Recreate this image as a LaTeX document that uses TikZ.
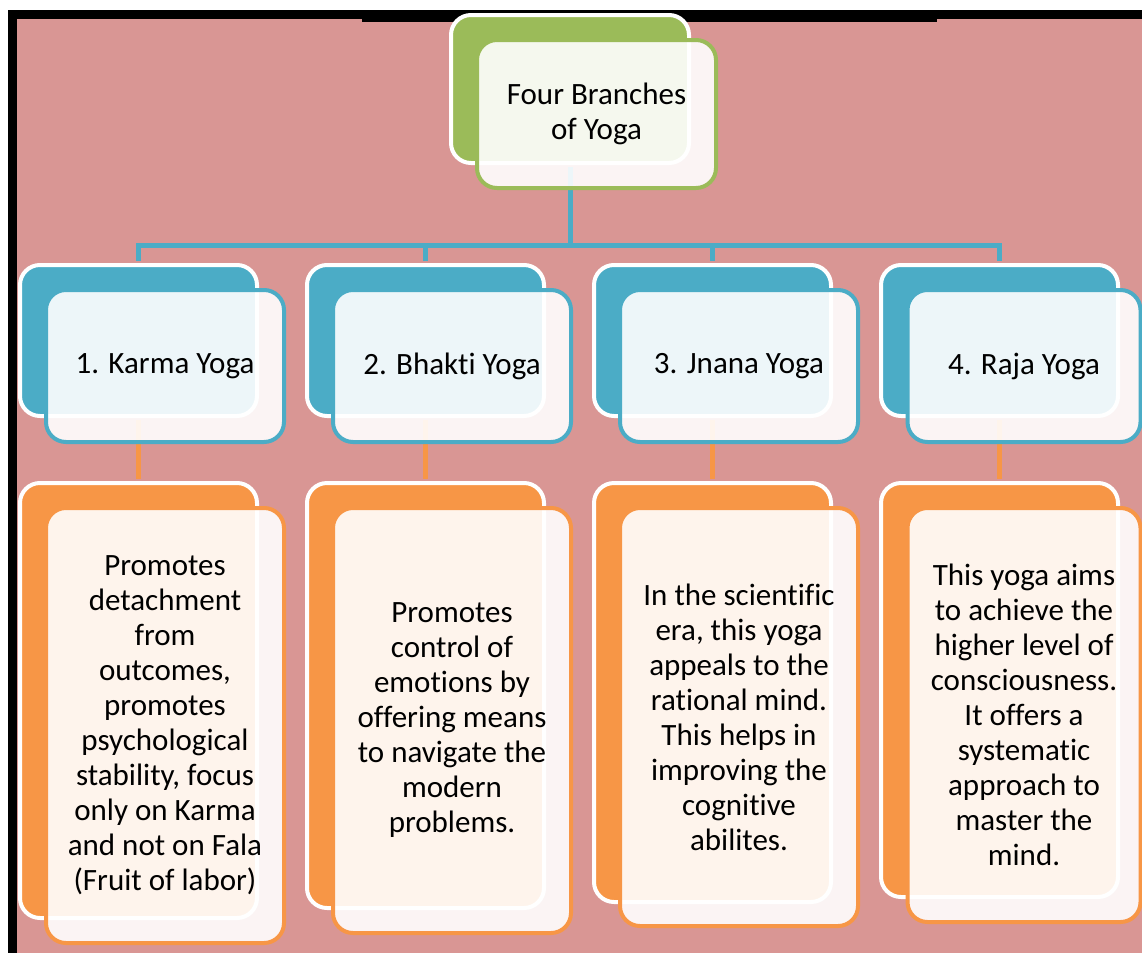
\documentclass[tikz,border=0pt]{standalone}
\usepackage{fontspec}
\setmainfont{Carlito}[Ligatures={NoCommon}]
\usepackage{tikz}
\usetikzlibrary{positioning}
\definecolor{pinkbg}{HTML}{D99694}
\definecolor{yogagreen}{HTML}{9BBB59}
\definecolor{yogablue}{HTML}{4BACC6}
\definecolor{yogaorange}{HTML}{F79646}
\tikzstyle{backbox}=[rectangle, rounded corners=20pt, draw=white, line width=4pt, fill=#1]
\tikzstyle{frontbox}=[rectangle, rounded corners=20pt, draw=#1, line width=4pt,
					fill=white, fill opacity=0.9, text opacity=1, text=black,
					align=center, font=\fontsize{31}{35}\selectfont]

\begin{document}
\begin{tikzpicture}[x=1pt, y=-1pt,
blueline/.style={draw=yogablue, line width=5pt, shorten <=2pt, shorten >=2pt},
orangeline/.style={draw=yogaorange, line width=5pt, shorten <=2pt, shorten >=2pt},
branchsize/.style={minimum width=237pt, minimum height=151pt},
]
\useasboundingbox (0,0) rectangle (1142,953);

%Background
\fill[pinkbg] (17,19) rectangle (1142,953);
\fill[black] (8,10) rectangle (1142,19);
\fill[black] (8,10) rectangle (17,953);
\fill[black] (362,19) rectangle (937,22);

%Back nodes
\node[backbox=yogagreen, minimum width=238pt, minimum height=148pt] (root_back) at (570,89) {};

\node[backbox=yogablue, branchsize] (karma_back)  at (138.5,340.5) {};
\node[backbox=yogablue, branchsize] (bhakti_back) at (425.5,340.5) {};
\node[backbox=yogablue, branchsize] (jnana_back)  at (712.5,340.5) {};
\node[backbox=yogablue, branchsize] (raja_back)   at (999.5,340.5) {};

\node[backbox=yogaorange, minimum width=237pt, minimum height=435pt] (karma_desc_back)  at (138.5,700.5) {};
\node[backbox=yogaorange, minimum width=237pt, minimum height=425pt] (bhakti_desc_back) at (425.5,695.5) {};
\node[backbox=yogaorange, minimum width=237pt, minimum height=419pt] (jnana_desc_back)  at (712.5,692.5) {};
\node[backbox=yogaorange, minimum width=237pt, minimum height=414pt] (raja_desc_back)   at (999.5,690) {};

%Lines
\coordinate (branch_split) at (570,245);
\draw[blueline] (root_back.south) -- ([yshift=-2pt]branch_split);
\draw[blueline, shorten <=0pt] (branch_split) -| (karma_back.north);
\draw[blueline, shorten <=0pt] (branch_split) -| (bhakti_back.north);
\draw[blueline, shorten <=0pt] (branch_split) -| (jnana_back.north);
\draw[blueline, shorten <=0pt] (branch_split) -| (raja_back.north);

\draw[orangeline] (karma_back.south) -- (karma_desc_back.north);
\draw[orangeline] (bhakti_back.south) -- (bhakti_desc_back.north);
\draw[orangeline] (jnana_back.south) -- (jnana_desc_back.north);
\draw[orangeline] (raja_back.south) -- (raja_desc_back.north);

%Front nodes
\node[frontbox=yogagreen, minimum width=239pt, minimum height=148pt] (root_node) at (596.5,114) {Four Branches\\of Yoga};

\node[frontbox=yogablue, minimum width=238pt, minimum height=152pt] (karma_node)  at (165,366)  {1. Karma Yoga};
\node[frontbox=yogablue, minimum width=238pt, minimum height=152pt] (bhakti_node) at (452,366)  {2. Bhakti Yoga};
\node[frontbox=yogablue, minimum width=238pt, minimum height=152pt] (jnana_node)  at (739,366)  {3. Jnana Yoga};
\node[frontbox=yogablue, minimum width=233pt, minimum height=152pt] (raja_node)   at (1024,366) {4. Raja Yoga};

\node[frontbox=yogaorange, minimum width=238pt, minimum height=435pt] (karma_desc_node) at (165,725.5)
	{Promotes\\detachment\\from\\outcomes,\\promotes\\psychological\\stability, focus\\only on Karma\\and not on Fala\\(Fruit of labor)};
\node[frontbox=yogaorange, minimum width=238pt, minimum height=425pt] (bhakti_desc_node) at (452,720.5)
	{Promotes\\control of\\emotions by\\offering means\\to navigate the\\modern\\problems.};
\node[frontbox=yogaorange, minimum width=238pt, minimum height=418pt] (jnana_desc_node) at (739,717)
	{In the scientific\\era, this yoga\\appeals to the\\rational mind.\\This helps in\\improving the\\cognitive\\abilites.};
\node[frontbox=yogaorange, minimum width=233pt, minimum height=414pt] (raja_desc_node) at (1024,715)
	{This yoga aims\\to achieve the\\higher level of\\consciousness.\\It offers a\\systematic\\approach to\\master the\\mind.};

\end{tikzpicture}
\end{document}
